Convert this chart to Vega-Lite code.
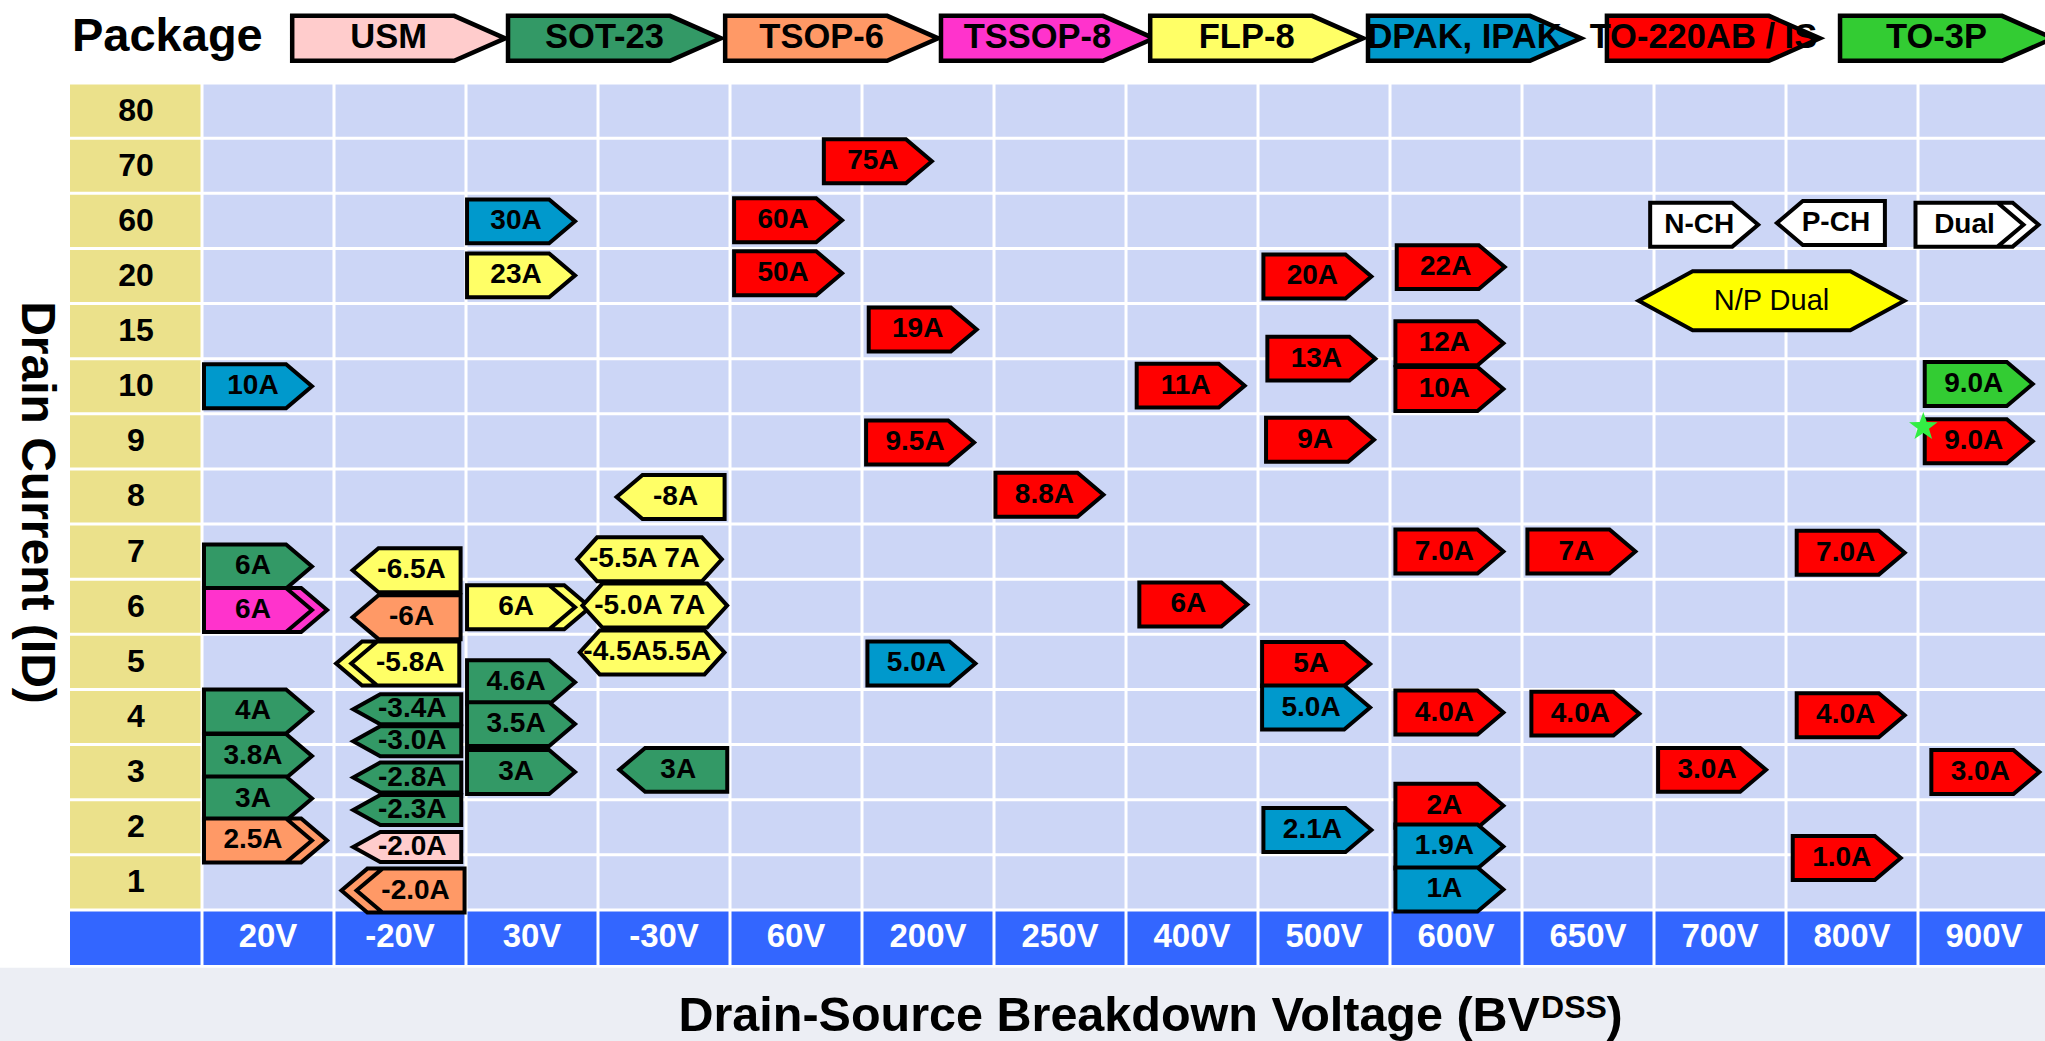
{
  "$schema": "https://vega.github.io/schema/vega-lite/v6.json",
  "width": 1975,
  "height": 882,
  "autosize": {"type": "none"},
  "padding": {"left": 70, "top": 83, "right": 0, "bottom": 76},
  "background": "#FFFFFF",
  "config": {"view": {"stroke": null}, "font": "Liberation Sans"},
  "datasets": {
    "rows": [
      {"cur": "80", "r": 0}, {"cur": "70", "r": 1}, {"cur": "60", "r": 2}, {"cur": "20", "r": 3},
      {"cur": "15", "r": 4}, {"cur": "10", "r": 5}, {"cur": "9", "r": 6}, {"cur": "8", "r": 7},
      {"cur": "7", "r": 8}, {"cur": "6", "r": 9}, {"cur": "5", "r": 10}, {"cur": "4", "r": 11},
      {"cur": "3", "r": 12}, {"cur": "2", "r": 13}, {"cur": "1", "r": 14}
    ],
    "cols": [
      {"v": "20V", "c": 1}, {"v": "-20V", "c": 2}, {"v": "30V", "c": 3}, {"v": "-30V", "c": 4},
      {"v": "60V", "c": 5}, {"v": "200V", "c": 6}, {"v": "250V", "c": 7}, {"v": "400V", "c": 8},
      {"v": "500V", "c": 9}, {"v": "600V", "c": 10}, {"v": "650V", "c": 11}, {"v": "700V", "c": 12},
      {"v": "800V", "c": 13}, {"v": "900V", "c": 14}
    ],
    "pkgs": [
      {"pkg": "USM", "c": 2.49}, {"pkg": "SOT-23", "c": 4.125}, {"pkg": "TSOP-6", "c": 5.77},
      {"pkg": "TSSOP-8", "c": 7.405}, {"pkg": "FLP-8", "c": 8.99}, {"pkg": "DPAK, IPAK", "c": 10.64},
      {"pkg": "TO-220AB / IS", "c": 12.45}, {"pkg": "TO-3P", "c": 14.216}
    ],
    "titles": [
      {"t": "Package", "px": 0.015, "py": -0.835},
      {"t": "Drain Current (ID)", "px": -0.258, "py": 7.61},
      {"t": "Drain-Source Breakdown Voltage (BV", "px": 11.136, "py": 17.197},
      {"t": "DSS", "px": 11.144, "py": 16.96},
      {"t": ")", "px": 11.64, "py": 17.197}
    ],
    "parts": [
      {"v": "20V", "pkg": "DPAK, IPAK", "type": "N", "label": "10A", "col": 1.424, "row": 5.5},
      {"v": "20V", "pkg": "SOT-23", "type": "N", "label": "6A", "col": 1.424, "row": 8.77},
      {"v": "20V", "pkg": "TSSOP-8", "type": "NN", "label": "6A", "col": 1.424, "row": 9.56},
      {"v": "20V", "pkg": "SOT-23", "type": "N", "label": "4A", "col": 1.424, "row": 11.4},
      {"v": "20V", "pkg": "SOT-23", "type": "N", "label": "3.8A", "col": 1.424, "row": 12.21},
      {"v": "20V", "pkg": "SOT-23", "type": "N", "label": "3A", "col": 1.424, "row": 12.98},
      {"v": "20V", "pkg": "TSOP-6", "type": "NN", "label": "2.5A", "col": 1.424, "row": 13.74},
      {"v": "-20V", "pkg": "FLP-8", "type": "P", "label": "-6.5A", "col": 2.55, "row": 8.84},
      {"v": "-20V", "pkg": "TSOP-6", "type": "P", "label": "-6A", "col": 2.55, "row": 9.69},
      {"v": "-20V", "pkg": "FLP-8", "type": "PP", "label": "-5.8A", "col": 2.54, "row": 10.53},
      {"v": "-20V", "pkg": "SOT-23", "type": "P", "label": "-3.4A", "col": 2.555, "row": 11.36},
      {"v": "-20V", "pkg": "SOT-23", "type": "P", "label": "-3.0A", "col": 2.555, "row": 11.94},
      {"v": "-20V", "pkg": "SOT-23", "type": "P", "label": "-2.8A", "col": 2.555, "row": 12.6},
      {"v": "-20V", "pkg": "SOT-23", "type": "P", "label": "-2.3A", "col": 2.555, "row": 13.19},
      {"v": "-20V", "pkg": "USM", "type": "P", "label": "-2.0A", "col": 2.555, "row": 13.86},
      {"v": "-20V", "pkg": "TSOP-6", "type": "PP", "label": "-2.0A", "col": 2.58, "row": 14.65},
      {"v": "30V", "pkg": "DPAK, IPAK", "type": "N", "label": "30A", "col": 3.417, "row": 2.51},
      {"v": "30V", "pkg": "FLP-8", "type": "N", "label": "23A", "col": 3.417, "row": 3.49},
      {"v": "30V", "pkg": "FLP-8", "type": "NN", "label": "6A", "col": 3.417, "row": 9.51},
      {"v": "30V", "pkg": "SOT-23", "type": "N", "label": "4.6A", "col": 3.417, "row": 10.87},
      {"v": "30V", "pkg": "SOT-23", "type": "N", "label": "3.5A", "col": 3.417, "row": 11.63},
      {"v": "30V", "pkg": "SOT-23", "type": "N", "label": "3A", "col": 3.417, "row": 12.5},
      {"v": "-30V", "pkg": "FLP-8", "type": "P", "label": "-8A", "col": 4.55, "row": 7.51},
      {"v": "-30V", "pkg": "FLP-8", "type": "NP", "label": "-5.5A 7A", "col": 4.39, "row": 8.64},
      {"v": "-30V", "pkg": "FLP-8", "type": "NP", "label": "-5.0A 7A", "col": 4.43, "row": 9.48},
      {"v": "-30V", "pkg": "FLP-8", "type": "NP", "label": "-4.5A5.5A", "col": 4.41, "row": 10.33},
      {"v": "-30V", "pkg": "SOT-23", "type": "P", "label": "3A", "col": 4.57, "row": 12.46},
      {"v": "60V", "pkg": "TO-220AB / IS", "type": "N", "label": "60A", "col": 5.44, "row": 2.49},
      {"v": "60V", "pkg": "TO-220AB / IS", "type": "N", "label": "50A", "col": 5.44, "row": 3.45},
      {"v": "60V", "pkg": "TO-220AB / IS", "type": "N", "label": "75A", "col": 6.12, "row": 1.42},
      {"v": "200V", "pkg": "TO-220AB / IS", "type": "N", "label": "19A", "col": 6.46, "row": 4.47},
      {"v": "200V", "pkg": "TO-220AB / IS", "type": "N", "label": "9.5A", "col": 6.44, "row": 6.52},
      {"v": "200V", "pkg": "DPAK, IPAK", "type": "N", "label": "5.0A", "col": 6.45, "row": 10.53},
      {"v": "250V", "pkg": "TO-220AB / IS", "type": "N", "label": "8.8A", "col": 7.42, "row": 7.47},
      {"v": "400V", "pkg": "TO-220AB / IS", "type": "N", "label": "11A", "col": 8.49, "row": 5.49},
      {"v": "400V", "pkg": "TO-220AB / IS", "type": "N", "label": "6A", "col": 8.51, "row": 9.46},
      {"v": "500V", "pkg": "TO-220AB / IS", "type": "N", "label": "20A", "col": 9.45, "row": 3.51},
      {"v": "500V", "pkg": "TO-220AB / IS", "type": "N", "label": "13A", "col": 9.48, "row": 5.0},
      {"v": "500V", "pkg": "TO-220AB / IS", "type": "N", "label": "9A", "col": 9.47, "row": 6.47},
      {"v": "500V", "pkg": "TO-220AB / IS", "type": "N", "label": "5A", "col": 9.44, "row": 10.54},
      {"v": "500V", "pkg": "DPAK, IPAK", "type": "N", "label": "5.0A", "col": 9.44, "row": 11.33},
      {"v": "500V", "pkg": "DPAK, IPAK", "type": "N", "label": "2.1A", "col": 9.45, "row": 13.55},
      {"v": "600V", "pkg": "TO-220AB / IS", "type": "N", "label": "22A", "col": 10.46, "row": 3.34},
      {"v": "600V", "pkg": "TO-220AB / IS", "type": "N", "label": "12A", "col": 10.45, "row": 4.72},
      {"v": "600V", "pkg": "TO-220AB / IS", "type": "N", "label": "10A", "col": 10.45, "row": 5.55},
      {"v": "600V", "pkg": "TO-220AB / IS", "type": "N", "label": "7.0A", "col": 10.45, "row": 8.5},
      {"v": "600V", "pkg": "TO-220AB / IS", "type": "N", "label": "4.0A", "col": 10.45, "row": 11.42},
      {"v": "600V", "pkg": "TO-220AB / IS", "type": "N", "label": "2A", "col": 10.45, "row": 13.11},
      {"v": "600V", "pkg": "DPAK, IPAK", "type": "N", "label": "1.9A", "col": 10.45, "row": 13.85},
      {"v": "600V", "pkg": "DPAK, IPAK", "type": "N", "label": "1A", "col": 10.45, "row": 14.63},
      {"v": "650V", "pkg": "TO-220AB / IS", "type": "N", "label": "7A", "col": 11.45, "row": 8.5},
      {"v": "650V", "pkg": "TO-220AB / IS", "type": "N", "label": "4.0A", "col": 11.48, "row": 11.44},
      {"v": "700V", "pkg": "TO-220AB / IS", "type": "N", "label": "3.0A", "col": 12.44, "row": 12.46},
      {"v": "800V", "pkg": "TO-220AB / IS", "type": "N", "label": "7.0A", "col": 13.49, "row": 8.52},
      {"v": "800V", "pkg": "TO-220AB / IS", "type": "N", "label": "4.0A", "col": 13.49, "row": 11.47},
      {"v": "800V", "pkg": "TO-220AB / IS", "type": "N", "label": "1.0A", "col": 13.46, "row": 14.06},
      {"v": "900V", "pkg": "TO-3P", "type": "N", "label": "9.0A", "col": 14.46, "row": 5.46},
      {"v": "900V", "pkg": "TO-220AB / IS", "type": "N", "label": "9.0A", "col": 14.46, "row": 6.5},
      {"v": "900V", "pkg": "TO-220AB / IS", "type": "N", "label": "3.0A", "col": 14.51, "row": 12.5},
      {"v": "key", "pkg": "key", "type": "N", "label": "N-CH", "col": 12.38, "row": 2.57},
      {"v": "key", "pkg": "key", "type": "P", "label": "P-CH", "col": 13.34, "row": 2.54},
      {"v": "key", "pkg": "key", "type": "NN", "label": "Dual", "col": 14.39, "row": 2.57},
      {"v": "key", "pkg": "N/P", "type": "NPD", "label": "N/P Dual", "col": 12.89, "row": 3.95}
    ],
    "notes": [{"v": "900V", "note": "new", "col": 14.04, "row": 6.24}]
  },
  "layer": [
    {
      "data": {"values": [{}]},
      "mark": {"type": "rect", "color": "#ECEEF4"},
      "encoding": {
        "x": {"datum": -1, "type": "quantitative", "scale": {"domain": [0, 14.962], "nice": false, "zero": false}, "axis": null},
        "x2": {"datum": 15.5},
        "y": {"datum": 16.05, "type": "quantitative", "scale": {"domain": [0, 16], "reverse": true, "nice": false, "zero": false}, "axis": null},
        "y2": {"datum": 17.7}
      }
    },
    {
      "data": {"values": [{}]},
      "mark": {"type": "rect", "color": "#CCD6F6"},
      "encoding": {
        "x": {"datum": 1, "type": "quantitative", "scale": {"domain": [0, 14.962], "nice": false, "zero": false}, "axis": null},
        "x2": {"datum": 15.5},
        "y": {"datum": 0, "type": "quantitative", "scale": {"domain": [0, 16], "reverse": true, "nice": false, "zero": false}, "axis": null},
        "y2": {"datum": 15}
      }
    },
    {
      "data": {"values": [{}]},
      "mark": {"type": "rect", "color": "#EBE18B"},
      "encoding": {
        "x": {"datum": 0, "type": "quantitative", "scale": {"domain": [0, 14.962], "nice": false, "zero": false}, "axis": null},
        "x2": {"datum": 1},
        "y": {"datum": 0, "type": "quantitative", "scale": {"domain": [0, 16], "reverse": true, "nice": false, "zero": false}, "axis": null},
        "y2": {"datum": 15}
      }
    },
    {
      "data": {"values": [{}]},
      "mark": {"type": "rect", "color": "#3366FF"},
      "encoding": {
        "x": {"datum": 0, "type": "quantitative", "scale": {"domain": [0, 14.962], "nice": false, "zero": false}, "axis": null},
        "x2": {"datum": 15.5},
        "y": {"datum": 15, "type": "quantitative", "scale": {"domain": [0, 16], "reverse": true, "nice": false, "zero": false}, "axis": null},
        "y2": {"datum": 16}
      }
    },
    {
      "data": {"name": "cols"},
      "mark": {"type": "rule", "color": "#FFFFFF", "strokeWidth": 3},
      "encoding": {
        "x": {"field": "c", "type": "quantitative", "scale": {"domain": [0, 14.962], "nice": false, "zero": false}, "axis": null},
        "y": {"datum": 0, "type": "quantitative", "scale": {"domain": [0, 16], "reverse": true, "nice": false, "zero": false}, "axis": null},
        "y2": {"datum": 16}
      }
    },
    {
      "data": {"name": "rows"},
      "mark": {"type": "rule", "color": "#FFFFFF", "strokeWidth": 3},
      "encoding": {
        "y": {"field": "r", "type": "quantitative", "scale": {"domain": [0, 16], "reverse": true, "nice": false, "zero": false}, "axis": null},
        "x": {"datum": 0, "type": "quantitative", "scale": {"domain": [0, 14.962], "nice": false, "zero": false}, "axis": null},
        "x2": {"datum": 15.5}
      }
    },
    {
      "data": {"values": [{}]},
      "mark": {"type": "rule", "color": "#FFFFFF", "strokeWidth": 3},
      "encoding": {
        "y": {"datum": 15, "type": "quantitative", "scale": {"domain": [0, 16], "reverse": true, "nice": false, "zero": false}, "axis": null},
        "x": {"datum": 0, "type": "quantitative", "scale": {"domain": [0, 14.962], "nice": false, "zero": false}, "axis": null},
        "x2": {"datum": 15.5}
      }
    },
    {
      "data": {"name": "rows"},
      "mark": {"type": "text", "fontSize": 32, "fontWeight": "bold", "color": "#000000", "align": "center", "baseline": "middle", "dy": 27.5},
      "encoding": {
        "x": {"datum": 0.5, "type": "quantitative", "scale": {"domain": [0, 14.962], "nice": false, "zero": false}, "axis": null},
        "y": {"field": "r", "type": "quantitative", "scale": {"domain": [0, 16], "reverse": true, "nice": false, "zero": false}, "axis": null},
        "text": {"field": "cur"}
      }
    },
    {
      "data": {"name": "cols"},
      "mark": {"type": "text", "fontSize": 33, "fontWeight": "bold", "color": "#FFFFFF", "align": "center", "baseline": "middle", "dx": 66},
      "encoding": {
        "x": {"field": "c", "type": "quantitative", "scale": {"domain": [0, 14.962], "nice": false, "zero": false}, "axis": null},
        "y": {"datum": 15.5, "type": "quantitative", "scale": {"domain": [0, 16], "reverse": true, "nice": false, "zero": false}, "axis": null},
        "text": {"field": "v"}
      }
    },
    {
      "data": {"name": "titles"},
      "transform": [{"filter": "datum.t === 'Package'"}],
      "mark": {"type": "text", "fontSize": 47, "fontWeight": "bold", "color": "#000000", "align": "left", "baseline": "middle"},
      "encoding": {
        "x": {"field": "px", "type": "quantitative", "scale": {"domain": [0, 14.962], "nice": false, "zero": false}, "axis": null},
        "y": {"field": "py", "type": "quantitative", "scale": {"domain": [0, 16], "reverse": true, "nice": false, "zero": false}, "axis": null},
        "text": {"field": "t"}
      }
    },
    {
      "data": {"name": "titles"},
      "transform": [{"filter": "datum.t === 'Drain Current (ID)'"}],
      "mark": {"type": "text", "fontSize": 48, "fontWeight": "bold", "color": "#000000", "align": "center", "baseline": "middle", "angle": 90},
      "encoding": {
        "x": {"field": "px", "type": "quantitative", "scale": {"domain": [0, 14.962], "nice": false, "zero": false}, "axis": null},
        "y": {"field": "py", "type": "quantitative", "scale": {"domain": [0, 16], "reverse": true, "nice": false, "zero": false}, "axis": null},
        "text": {"field": "t"}
      }
    },
    {
      "data": {"name": "titles"},
      "transform": [{"filter": "datum.t === 'Drain-Source Breakdown Voltage (BV'"}],
      "mark": {"type": "text", "fontSize": 48.5, "fontWeight": "bold", "color": "#000000", "align": "right", "baseline": "alphabetic"},
      "encoding": {
        "x": {"field": "px", "type": "quantitative", "scale": {"domain": [0, 14.962], "nice": false, "zero": false}, "axis": null},
        "y": {"field": "py", "type": "quantitative", "scale": {"domain": [0, 16], "reverse": true, "nice": false, "zero": false}, "axis": null},
        "text": {"field": "t"}
      }
    },
    {
      "data": {"name": "titles"},
      "transform": [{"filter": "datum.t === 'DSS'"}],
      "mark": {"type": "text", "fontSize": 32, "fontWeight": "bold", "color": "#000000", "align": "left", "baseline": "alphabetic"},
      "encoding": {
        "x": {"field": "px", "type": "quantitative", "scale": {"domain": [0, 14.962], "nice": false, "zero": false}, "axis": null},
        "y": {"field": "py", "type": "quantitative", "scale": {"domain": [0, 16], "reverse": true, "nice": false, "zero": false}, "axis": null},
        "text": {"field": "t"}
      }
    },
    {
      "data": {"name": "titles"},
      "transform": [{"filter": "datum.t === ')'"}],
      "mark": {"type": "text", "fontSize": 48.5, "fontWeight": "bold", "color": "#000000", "align": "left", "baseline": "alphabetic"},
      "encoding": {
        "x": {"field": "px", "type": "quantitative", "scale": {"domain": [0, 14.962], "nice": false, "zero": false}, "axis": null},
        "y": {"field": "py", "type": "quantitative", "scale": {"domain": [0, 16], "reverse": true, "nice": false, "zero": false}, "axis": null},
        "text": {"field": "t"}
      }
    },
    {
      "data": {"name": "pkgs"},
      "mark": {"type": "point", "filled": true, "opacity": 1, "size": 11664, "stroke": "#000000", "strokeWidth": 4.5, "strokeJoin": "miter", "shape": "M-1.972,-0.417L1.028,-0.417L1.972,0L1.028,0.417L-1.972,0.417Z"},
      "encoding": {
        "x": {"field": "c", "type": "quantitative", "scale": {"domain": [0, 14.962], "nice": false, "zero": false}, "axis": null},
        "y": {"datum": -0.81, "type": "quantitative", "scale": {"domain": [0, 16], "reverse": true, "nice": false, "zero": false}, "axis": null},
        "color": {"field": "pkg", "type": "nominal", "legend": null, "scale": {"domain": ["USM", "SOT-23", "TSOP-6", "TSSOP-8", "FLP-8", "DPAK, IPAK", "TO-220AB / IS", "TO-3P", "N/P", "key"], "range": ["#FFCCCC", "#339966", "#FF9966", "#FF33CC", "#FFFF66", "#0099CC", "#FF0000", "#33CC33", "#FFFF00", "#FFFFFF"]}}
      }
    },
    {
      "data": {"name": "pkgs"},
      "mark": {"type": "text", "fontSize": 34.5, "fontWeight": "bold", "color": "#000000", "align": "center", "baseline": "middle", "dx": -10},
      "encoding": {
        "x": {"field": "c", "type": "quantitative", "scale": {"domain": [0, 14.962], "nice": false, "zero": false}, "axis": null},
        "y": {"datum": -0.81, "type": "quantitative", "scale": {"domain": [0, 16], "reverse": true, "nice": false, "zero": false}, "axis": null},
        "text": {"field": "pkg"}
      }
    },
    {
      "data": {"name": "parts"},
      "transform": [{"filter": "!(datum.v === '-20V' && (datum.pkg === 'SOT-23' || datum.pkg === 'USM'))"}],
      "mark": {"type": "point", "filled": true, "opacity": 1, "size": 11664, "stroke": "#000000", "strokeWidth": 4, "strokeJoin": "miter"},
      "encoding": {
        "x": {"field": "col", "type": "quantitative", "scale": {"domain": [0, 14.962], "nice": false, "zero": false}, "axis": null},
        "y": {"field": "row", "type": "quantitative", "scale": {"domain": [0, 16], "reverse": true, "nice": false, "zero": false}, "axis": null},
        "color": {"field": "pkg", "type": "nominal", "legend": null, "scale": {"domain": ["USM", "SOT-23", "TSOP-6", "TSSOP-8", "FLP-8", "DPAK, IPAK", "TO-220AB / IS", "TO-3P", "N/P", "key"], "range": ["#FFCCCC", "#339966", "#FF9966", "#FF33CC", "#FFFF66", "#0099CC", "#FF0000", "#33CC33", "#FFFF00", "#FFFFFF"]}},
        "shape": {"field": "type", "type": "nominal", "legend": null, "scale": {"domain": ["N", "P", "NN", "PP", "NP", "NPD"], "range": [
          "M-1,-0.407L0.52,-0.407L1,0L0.52,0.407L-1,0.407Z",
          "M1,-0.407L-0.52,-0.407L-1,0L-0.52,0.407L1,0.407Z",
          "M-1,-0.407L0.8,-0.407L1.28,0L0.8,0.407L-1,0.407Z M0.52,-0.407L1,0L0.52,0.407",
          "M1,-0.407L-0.8,-0.407L-1.28,0L-0.8,0.407L1,0.407Z M-0.52,-0.407L-1,0L-0.52,0.407",
          "M-1.34,0L-0.97,-0.407L0.97,-0.407L1.34,0L0.97,0.407L-0.97,0.407Z",
          "M-2.46,0L-1.46,-0.546L1.46,-0.546L2.46,0L1.46,0.546L-1.46,0.546Z"
        ]}}
      }
    },
    {
      "data": {"name": "parts"},
      "transform": [{"filter": "datum.v === '-20V' && (datum.pkg === 'SOT-23' || datum.pkg === 'USM')"}],
      "mark": {"type": "point", "filled": true, "opacity": 1, "size": 11664, "stroke": "#000000", "strokeWidth": 4, "strokeJoin": "miter", "shape": "M1,-0.278L-0.5,-0.278L-1,0L-0.5,0.278L1,0.278Z"},
      "encoding": {
        "x": {"field": "col", "type": "quantitative", "scale": {"domain": [0, 14.962], "nice": false, "zero": false}, "axis": null},
        "y": {"field": "row", "type": "quantitative", "scale": {"domain": [0, 16], "reverse": true, "nice": false, "zero": false}, "axis": null},
        "color": {"field": "pkg", "type": "nominal", "legend": null, "scale": {"domain": ["USM", "SOT-23", "TSOP-6", "TSSOP-8", "FLP-8", "DPAK, IPAK", "TO-220AB / IS", "TO-3P", "N/P", "key"], "range": ["#FFCCCC", "#339966", "#FF9966", "#FF33CC", "#FFFF66", "#0099CC", "#FF0000", "#33CC33", "#FFFF00", "#FFFFFF"]}}
      }
    },
    {
      "data": {"name": "parts"},
      "transform": [{"filter": "datum.type === 'N' || datum.type === 'NN' || datum.type === 'NP'"}],
      "mark": {"type": "text", "fontSize": 28, "fontWeight": "bold", "color": "#000000", "align": "center", "baseline": "middle", "dx": -5},
      "encoding": {
        "x": {"field": "col", "type": "quantitative", "scale": {"domain": [0, 14.962], "nice": false, "zero": false}, "axis": null},
        "y": {"field": "row", "type": "quantitative", "scale": {"domain": [0, 16], "reverse": true, "nice": false, "zero": false}, "axis": null},
        "text": {"field": "label"}
      }
    },
    {
      "data": {"name": "parts"},
      "transform": [{"filter": "datum.type === 'P' || datum.type === 'PP'"}],
      "mark": {"type": "text", "fontSize": 28, "fontWeight": "bold", "color": "#000000", "align": "center", "baseline": "middle", "dx": 5},
      "encoding": {
        "x": {"field": "col", "type": "quantitative", "scale": {"domain": [0, 14.962], "nice": false, "zero": false}, "axis": null},
        "y": {"field": "row", "type": "quantitative", "scale": {"domain": [0, 16], "reverse": true, "nice": false, "zero": false}, "axis": null},
        "text": {"field": "label"}
      }
    },
    {
      "data": {"name": "parts"},
      "transform": [{"filter": "datum.type === 'NPD'"}],
      "mark": {"type": "text", "fontSize": 29, "fontWeight": "normal", "color": "#000000", "align": "center", "baseline": "middle"},
      "encoding": {
        "x": {"field": "col", "type": "quantitative", "scale": {"domain": [0, 14.962], "nice": false, "zero": false}, "axis": null},
        "y": {"field": "row", "type": "quantitative", "scale": {"domain": [0, 16], "reverse": true, "nice": false, "zero": false}, "axis": null},
        "text": {"field": "label"}
      }
    },
    {
      "data": {"name": "notes"},
      "mark": {"type": "point", "filled": true, "opacity": 1, "size": 900, "color": "#33EE44", "strokeWidth": 0, "shape": "M0,-1L0.235,-0.324L0.951,-0.309L0.38,0.124L0.588,0.809L0,0.4L-0.588,0.809L-0.38,0.124L-0.951,-0.309L-0.235,-0.324Z"},
      "encoding": {
        "x": {"field": "col", "type": "quantitative", "scale": {"domain": [0, 14.962], "nice": false, "zero": false}, "axis": null},
        "y": {"field": "row", "type": "quantitative", "scale": {"domain": [0, 16], "reverse": true, "nice": false, "zero": false}, "axis": null}
      }
    }
  ]
}
